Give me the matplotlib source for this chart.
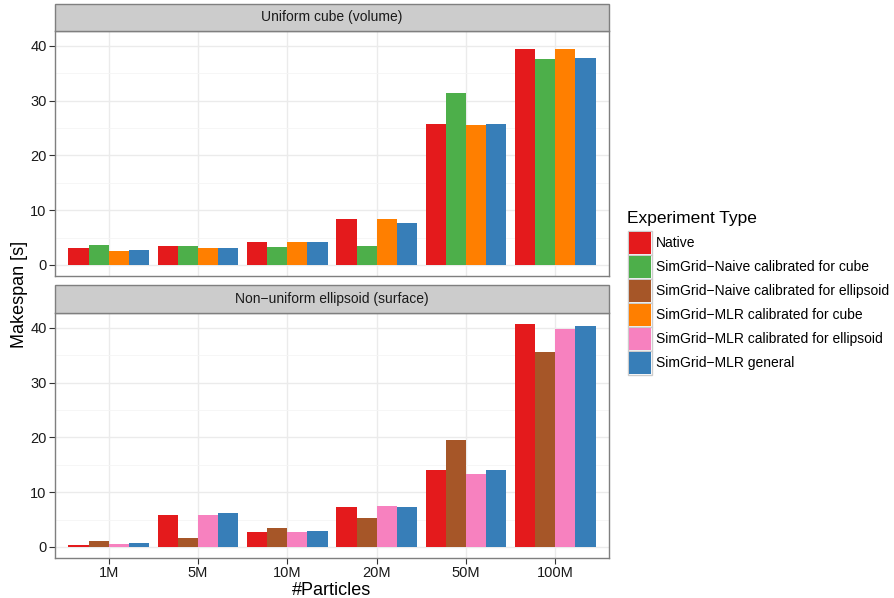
import numpy as np
import matplotlib.pyplot as plt
from matplotlib.patches import Rectangle

plt.rcParams.update({"font.family": ["Liberation Sans", "DejaVu Sans"],
                     "figure.dpi": 100})

# Dados
particulas = ["1M", "5M", "10M", "20M", "50M", "100M"]

tipos = ["Native",
         "SimGrid\u2212Naive calibrated for cube",
         "SimGrid\u2212Naive calibrated for ellipsoid",
         "SimGrid\u2212MLR calibrated for cube",
         "SimGrid\u2212MLR calibrated for ellipsoid",
         "SimGrid\u2212MLR general"]
cores = ["#E41A1C", "#4DAF4A", "#A65628", "#FF7F00", "#F781BF", "#377EB8"]

# Painel superior: cubo uniforme
cubo_native = [3.0, 3.4, 4.1, 8.3, 25.8, 39.4]
cubo_naive_cube = [3.6, 3.4, 3.2, 3.4, 31.4, 37.6]
cubo_mlr_cube = [2.5, 3.0, 4.1, 8.3, 25.6, 39.4]
cubo_mlr_general = [2.7, 3.0, 4.1, 7.6, 25.8, 37.8]

# Painel inferior: elipsoide nao uniforme
elip_native = [0.36, 5.8, 2.7, 7.3, 14.0, 40.7]
elip_naive_ellipsoid = [1.1, 1.6, 3.45, 5.3, 19.6, 35.6]
elip_mlr_ellipsoid = [0.55, 5.8, 2.7, 7.45, 13.3, 39.8]
elip_mlr_general = [0.73, 6.2, 2.9, 7.3, 14.0, 40.4]

paineis = [("Uniform cube (volume)",
            [(0, cubo_native), (1, cubo_naive_cube),
             (3, cubo_mlr_cube), (5, cubo_mlr_general)]),
           ("Non\u2212uniform ellipsoid (surface)",
            [(0, elip_native), (2, elip_naive_ellipsoid),
             (4, elip_mlr_ellipsoid), (5, elip_mlr_general)])]

W, H = 894, 598
fig = plt.figure(figsize=(W / 100, H / 100))


def fx(p):
    return p / W


def fy(p):
    return 1 - p / H


esq, dir_ = 55, 609
# (topo da faixa, base da faixa, base do painel)
geom = [(4, 31, 276), (285, 313, 558)]

ymax = max(max(s) for _, ss in paineis for _, s in ss)
ylim = (-0.05 * ymax, 1.05 * ymax)
x = np.arange(1, len(particulas) + 1)
largura = 0.9 / 4

for k, (titulo, series) in enumerate(paineis):
    t, sb, b = geom[k]
    ax = fig.add_axes([fx(esq), fy(b), fx(dir_ - esq), (b - sb) / H])
    ax.set_axisbelow(True)
    for j, (ci, vals) in enumerate(series):
        ax.bar(x + (j - 1.5) * largura, vals, width=largura,
               color=cores[ci], linewidth=0)
    ax.set_xlim(0.4, len(particulas) + 0.6)
    ax.set_ylim(*ylim)
    ax.set_yticks([0, 10, 20, 30, 40])
    ax.set_yticks([5, 15, 25, 35], minor=True)
    ax.set_xticks(x)
    ax.grid(which="major", color="#EBEBEB", linewidth=1.0)
    ax.grid(which="minor", axis="y", color="#F5F5F5", linewidth=0.6)
    ax.tick_params(which="minor", length=0)
    ax.tick_params(which="major", length=4, width=0.8, color="#333333",
                   labelsize=10.5, labelcolor="#1a1a1a", pad=2)
    for s in ax.spines.values():
        s.set_color("#7F7F7F")
        s.set_linewidth(1.0)
    if k == 0:
        ax.set_xticklabels([])
        ax.tick_params(axis="x", length=0)
    else:
        ax.set_xticklabels(particulas)
        ax.set_xlabel("#Particles", fontsize=13, labelpad=1)

    # Faixa do titulo do painel
    fig.add_artist(Rectangle((fx(esq), fy(sb)), fx(dir_ - esq), (sb - t) / H,
                             transform=fig.transFigure, facecolor="#CCCCCC",
                             edgecolor="#7F7F7F", linewidth=1.0))
    fig.text(fx((esq + dir_) / 2), fy((t + sb) / 2), titulo,
             ha="center", va="center", fontsize=10, color="#1a1a1a")

fig.text(fx(20), fy(294), "Makespan [s]", rotation=90,
         ha="center", va="center", fontsize=13)

# Legenda
fig.text(fx(627), fy(218), "Experiment Type", ha="left", va="center",
         fontsize=12.5)
for i, (nome, cor) in enumerate(zip(tipos, cores)):
    y0 = 231 + i * 24
    fig.add_artist(Rectangle((fx(628), fy(y0 + 24)), fx(24), 24 / H,
                             transform=fig.transFigure, facecolor="white",
                             edgecolor="#CCCCCC", linewidth=1.0))
    fig.add_artist(Rectangle((fx(629), fy(y0 + 23)), fx(22), 22 / H,
                             transform=fig.transFigure, facecolor=cor,
                             linewidth=0))
    fig.text(fx(656), fy(y0 + 12), nome, ha="left", va="center",
             fontsize=10)

fig.savefig("out.png", dpi=100)
